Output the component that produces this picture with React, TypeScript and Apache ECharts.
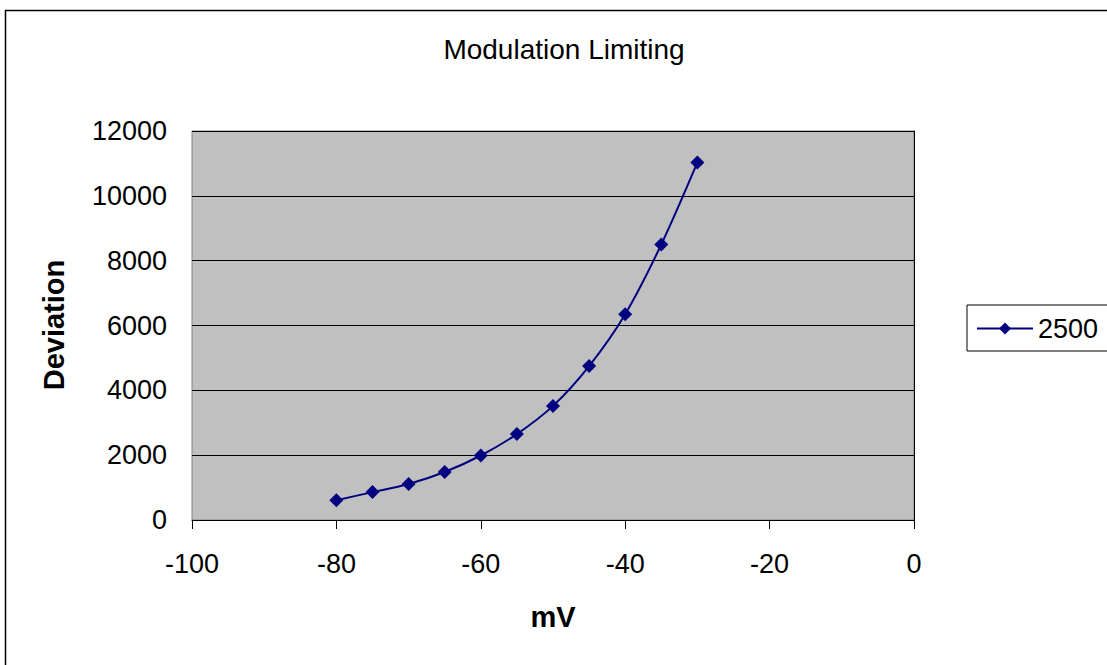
import React, { useEffect, useRef } from "react";
import * as echarts from "echarts";

const xValues = [-80, -75, -70, -65, -60, -55, -50, -45, -40, -35, -30];
const deviation = [610, 860, 1110, 1480, 1990, 2650, 3520, 4750, 6350, 8500, 11030];
const seriesName = "2500";
const titleText = "Modulation Limiting";
const xName = "mV";
const yName = "Deviation";

export default function App() {
  const ref = useRef<HTMLDivElement>(null);
  useEffect(() => {
    if (!ref.current) return;
    const chart = echarts.init(ref.current, null, { renderer: "svg" });
    const font = "Liberation Sans, Arial, sans-serif";
    chart.setOption({
      animation: false,
      backgroundColor: "#ffffff",
      textStyle: { fontFamily: font },
      graphic: [
        {
          type: "rect",
          shape: { x: 5.5, y: 10.5, width: 1120, height: 680 },
          style: { fill: "none", stroke: "#000", lineWidth: 1.5 },
          silent: true,
        },
        {
          type: "text",
          x: 564,
          y: 49,
          style: {
            text: titleText,
            fill: "#000",
            font: "normal 28px " + font,
            textAlign: "center",
            textVerticalAlign: "middle",
          },
        },
        {
          type: "text",
          x: 553,
          y: 617,
          style: {
            text: xName,
            fill: "#000",
            font: "bold 29px " + font,
            textAlign: "center",
            textVerticalAlign: "middle",
          },
        },
        {
          type: "text",
          x: 54,
          y: 325,
          rotation: Math.PI / 2,
          style: {
            text: yName,
            fill: "#000",
            font: "bold 29px " + font,
            textAlign: "center",
            textVerticalAlign: "middle",
          },
        },
      ],
      legend: {
        left: 967,
        top: 305,
        orient: "vertical",
        borderColor: "#000",
        borderWidth: 1,
        borderRadius: 0,
        padding: [10, 30, 9, 9],
        itemWidth: 56,
        itemHeight: 15,
        itemGap: 0,
        textStyle: { fontSize: 27, color: "#000", fontFamily: font },
        data: [seriesName],
      },
      grid: {
        left: 192,
        right: 193,
        top: 131,
        bottom: 145,
        show: true,
        backgroundColor: "#C0C0C0",
        borderColor: "#808080",
        borderWidth: 1,
      },
      xAxis: {
        type: "value",
        min: -100,
        max: 0,
        interval: 20,
        axisLine: { show: true, onZero: false, lineStyle: { color: "#000", width: 1 } },
        axisTick: { show: true, inside: false, length: 9, lineStyle: { color: "#000" } },
        axisLabel: { fontSize: 27, color: "#000", margin: 30, fontFamily: font },
        splitLine: { show: false },
      },
      yAxis: {
        type: "value",
        min: 0,
        max: 12000,
        interval: 2000,
        axisLine: { show: true, lineStyle: { color: "#000", width: 1 } },
        axisTick: { show: true, inside: false, length: 9, lineStyle: { color: "#000" } },
        axisLabel: {
          fontSize: 27,
          color: "#000",
          margin: 25,
          fontFamily: font,
          formatter: (v: number) => String(v),
        },
        splitLine: { show: true, lineStyle: { color: "#000", width: 1 } },
      },
      series: [
        {
          name: seriesName,
          type: "line",
          smooth: 0.3,
          data: xValues.map((x, i) => [x, deviation[i]]),
          symbol: "diamond",
          symbolSize: 14,
          itemStyle: { color: "#000080" },
          lineStyle: { color: "#000080", width: 2 },
        },
      ],
    });
    return () => chart.dispose();
  }, []);
  return (
    <div
      ref={ref}
      style={{ position: "fixed", left: 0, top: 0, width: 1107, height: 665 }}
    />
  );
}
